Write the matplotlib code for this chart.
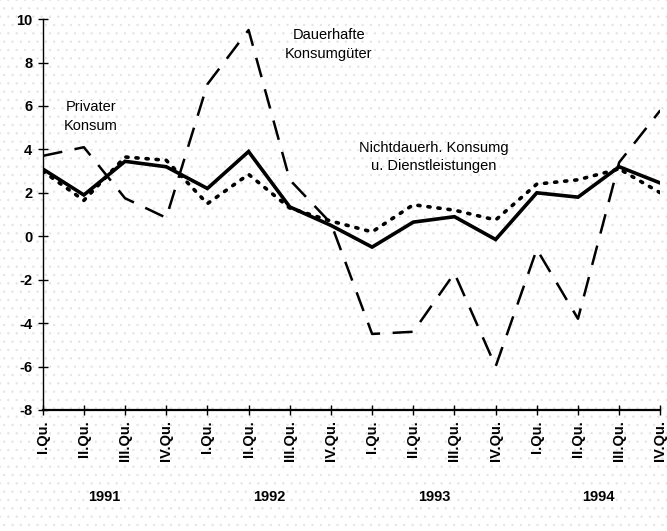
import matplotlib.pyplot as plt
from matplotlib.patches import Rectangle

plt.rcParams['font.family'] = ['Liberation Sans', 'DejaVu Sans']
plt.rcParams['axes.unicode_minus'] = False
plt.rcParams['hatch.linewidth'] = 0.4

quarters = ["I.Qu.", "II.Qu.", "III.Qu.", "IV.Qu."] * 4
years = ["1991", "1992", "1993", "1994"]

privater_konsum = [3.1, 1.9, 3.45, 3.2, 2.2, 3.9, 1.35, 0.5, -0.5, 0.65, 0.9, -0.15, 2.0, 1.8, 3.2, 2.45]
nichtdauerh = [3.0, 1.65, 3.65, 3.5, 1.5, 2.85, 1.3, 0.7, 0.2, 1.45, 1.2, 0.75, 2.4, 2.6, 3.1, 2.0]
dauerhafte = [3.7, 4.1, 1.75, 0.85, 7.0, 9.5, 2.6, 0.6, -4.5, -4.4, -1.7, -6.0, -0.6, -3.8, 3.4, 5.8]

fig = plt.figure(figsize=(6.67, 5.31), dpi=100)
fig.patches.append(Rectangle((0, 0), 1, 1, transform=fig.transFigure, facecolor='white',
                             edgecolor='#e2e2e2', hatch='..', linewidth=0, zorder=-10))
ax = fig.add_axes([0.064, 0.228, 0.926, 0.736])
ax.patch.set_alpha(0)

x = list(range(len(quarters)))
ax.plot(x, privater_konsum, color='black', lw=2.6, solid_joinstyle='miter')
ax.plot(x, nichtdauerh, color='black', lw=2.6, linestyle=(0, (0.6, 2.2)), dash_capstyle='round')
ax.plot(x, dauerhafte, color='black', lw=1.8, linestyle=(0, (8, 5)))

ax.set_xlim(0, 15)
ax.set_ylim(-8, 10)
ax.set_yticks(range(-8, 11, 2))
ax.set_xticks(x)
ax.set_xticklabels(quarters, rotation=90, fontsize=10.5, fontweight='bold')
for lab in ax.get_yticklabels():
    lab.set_fontsize(10.5)
    lab.set_fontweight('bold')
ax.tick_params(axis='both', direction='inout', length=7, width=1, color='black')
ax.tick_params(axis='y', pad=4)
ax.tick_params(axis='x', pad=4)
for s in ['top', 'right']:
    ax.spines[s].set_visible(False)
ax.spines['left'].set_linewidth(1)
ax.spines['bottom'].set_linewidth(1.6)

for i, yr in enumerate(years):
    ax.text(1.5 + 4 * i, -12.0, yr, ha='center', va='center', fontsize=10.5, fontweight='bold')

ax.text(6.95, 8.85, "Dauerhafte\nKonsumgüter", ha='center', va='center', fontsize=10.5, linespacing=1.45)
ax.text(1.17, 5.5, "Privater\nKonsum", ha='center', va='center', fontsize=10.5, linespacing=1.45)
ax.text(9.5, 3.65, "Nichtdauerh. Konsumg\nu. Dienstleistungen", ha='center', va='center', fontsize=10.5,
        linespacing=1.45)

fig.savefig("out.png", dpi=100)
